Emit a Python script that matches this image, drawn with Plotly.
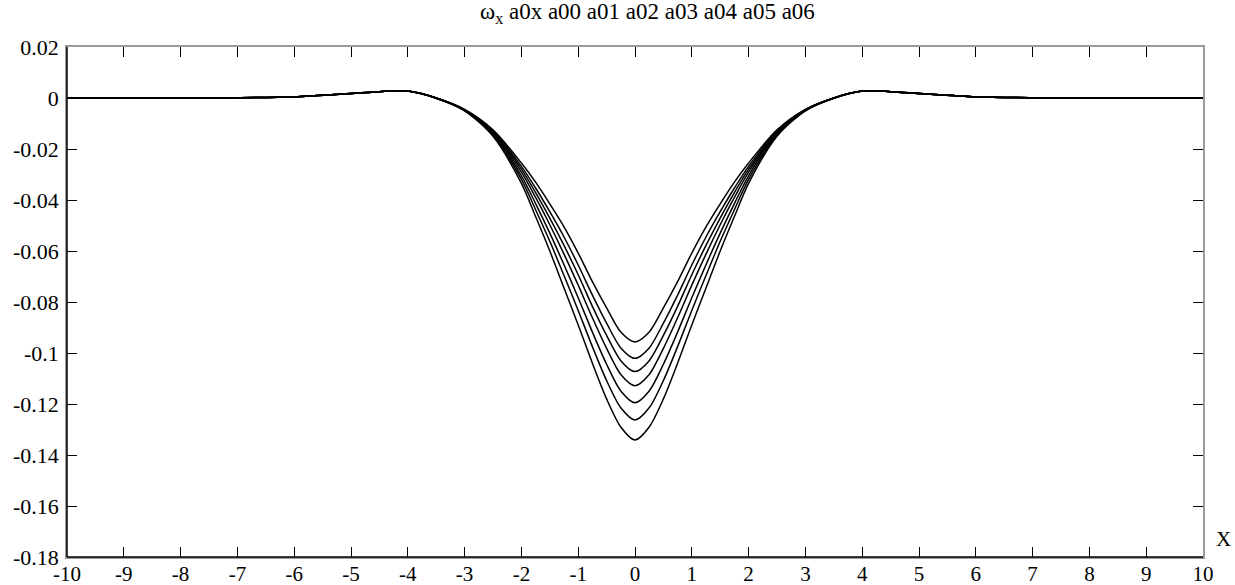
import plotly.graph_objects as go

# Sample positions along the X axis
X = [-10, -9, -8, -7, -6, -5, -4.5, -4, -3.5, -3, -2.5, -2, -1.75, -1.5, -1.25, -1, -0.75, -0.5, -0.25,
     0,
     0.25, 0.5, 0.75, 1, 1.25, 1.5, 1.75, 2, 2.5, 3, 3.5, 4, 4.5, 5, 6, 7, 8, 9, 10]

# Seven curves (shallowest to deepest)
a00 = [0, 0, 0, 0.0001, 0.0005, 0.0018, 0.0025, 0.0027, 0.0000, -0.0045, -0.0125, -0.0255, -0.0330, -0.0415, -0.0505, -0.0608, -0.0720, -0.0823, -0.0918,
       -0.0957,
       -0.0918, -0.0823, -0.0720, -0.0608, -0.0505, -0.0415, -0.0330, -0.0255, -0.0125, -0.0045, 0.0000, 0.0027, 0.0025, 0.0018, 0.0005, 0.0001, 0, 0, 0]
a01 = [0, 0, 0, 0.0001, 0.0005, 0.0018, 0.0025, 0.0027, 0.0000, -0.0046, -0.0129, -0.0268, -0.0353, -0.0446, -0.0545, -0.0655, -0.0773, -0.0883, -0.0980,
       -0.1021,
       -0.0980, -0.0883, -0.0773, -0.0655, -0.0545, -0.0446, -0.0353, -0.0268, -0.0129, -0.0046, 0.0000, 0.0027, 0.0025, 0.0018, 0.0005, 0.0001, 0, 0, 0]
a02 = [0, 0, 0, 0.0001, 0.0005, 0.0018, 0.0025, 0.0027, 0.0000, -0.0047, -0.0133, -0.0279, -0.0371, -0.0471, -0.0578, -0.0693, -0.0817, -0.0931, -0.1030,
       -0.1073,
       -0.1030, -0.0931, -0.0817, -0.0693, -0.0578, -0.0471, -0.0371, -0.0279, -0.0133, -0.0047, 0.0000, 0.0027, 0.0025, 0.0018, 0.0005, 0.0001, 0, 0, 0]
a03 = [0, 0, 0, 0.0001, 0.0005, 0.0018, 0.0025, 0.0027, 0.0000, -0.0047, -0.0136, -0.0291, -0.0390, -0.0497, -0.0612, -0.0734, -0.0862, -0.0982, -0.1084,
       -0.1128,
       -0.1084, -0.0982, -0.0862, -0.0734, -0.0612, -0.0497, -0.0390, -0.0291, -0.0136, -0.0047, 0.0000, 0.0027, 0.0025, 0.0018, 0.0005, 0.0001, 0, 0, 0]
a04 = [0, 0, 0, 0.0001, 0.0005, 0.0018, 0.0025, 0.0027, -0.0001, -0.0048, -0.0141, -0.0305, -0.0414, -0.0530, -0.0654, -0.0783, -0.0918, -0.1044, -0.1149,
       -0.1195,
       -0.1149, -0.1044, -0.0918, -0.0783, -0.0654, -0.0530, -0.0414, -0.0305, -0.0141, -0.0048, -0.0001, 0.0027, 0.0025, 0.0018, 0.0005, 0.0001, 0, 0, 0]
a05 = [0, 0, 0, 0.0001, 0.0005, 0.0018, 0.0025, 0.0027, -0.0001, -0.0049, -0.0145, -0.0319, -0.0438, -0.0562, -0.0696, -0.0833, -0.0975, -0.1108, -0.1215,
       -0.1263,
       -0.1215, -0.1108, -0.0975, -0.0833, -0.0696, -0.0562, -0.0438, -0.0319, -0.0145, -0.0049, -0.0001, 0.0027, 0.0025, 0.0018, 0.0005, 0.0001, 0, 0, 0]
a06 = [0, 0, 0, 0.0001, 0.0005, 0.0018, 0.0025, 0.0027, -0.0001, -0.0050, -0.0150, -0.0335, -0.0465, -0.0600, -0.0745, -0.0890, -0.1040, -0.1180, -0.1290,
       -0.1341,
       -0.1290, -0.1180, -0.1040, -0.0890, -0.0745, -0.0600, -0.0465, -0.0335, -0.0150, -0.0050, -0.0001, 0.0027, 0.0025, 0.0018, 0.0005, 0.0001, 0, 0, 0]

SERIES = {"a00": a00, "a01": a01, "a02": a02, "a03": a03, "a04": a04, "a05": a05, "a06": a06}

X_TICKS = list(range(-10, 11))
X_TICK_LABELS = [str(v) for v in X_TICKS]
Y_TICKS = [0.02, 0, -0.02, -0.04, -0.06, -0.08, -0.1, -0.12, -0.14, -0.16, -0.18]
Y_TICK_LABELS = ["0.02", "0", "-0.02", "-0.04", "-0.06", "-0.08", "-0.1", "-0.12", "-0.14", "-0.16", "-0.18"]

TITLE = "ω<sub>x</sub> a0x a00 a01 a02 a03 a04 a05 a06"
FONT = "Liberation Serif"

fig = go.Figure()
for name, ys in SERIES.items():
    fig.add_trace(go.Scatter(x=X, y=ys, mode="lines", name=name,
                             line=dict(color="black", width=1.5, shape="spline", smoothing=0.8),
                             showlegend=False, hoverinfo="skip"))

axis_common = dict(showgrid=False, zeroline=False, ticks="inside", ticklen=10, tickwidth=1.2,
                   tickcolor="black", linecolor="#9a9a9a", linewidth=1.5, mirror="ticks",
                   automargin=False)

fig.update_xaxes(range=[-10, 10], tickvals=X_TICKS, ticktext=X_TICK_LABELS,
                 ticklabelstandoff=-3, tickfont=dict(family=FONT, size=21, color="black"),
                 **axis_common)
fig.update_yaxes(range=[-0.18, 0.02], tickvals=Y_TICKS, ticktext=Y_TICK_LABELS,
                 ticklabelstandoff=2, tickfont=dict(family=FONT, size=22, color="black"),
                 **axis_common)

fig.update_layout(
    width=1235, height=585,
    margin=dict(l=67, r=32, t=47, b=28),
    paper_bgcolor="white", plot_bgcolor="white",
    font=dict(family=FONT, color="black"),
    shapes=[
        dict(type="line", xref="paper", yref="paper", x0=0, x1=0, y0=0, y1=1,
             line=dict(color="black", width=1.5)),
        dict(type="line", xref="paper", yref="paper", x0=0, x1=1, y0=0, y1=0,
             line=dict(color="black", width=1.5)),
    ],
    annotations=[
        dict(text=TITLE, xref="paper", yref="paper", x=0.511, y=1 + 34 / 510,
             xanchor="center", yanchor="middle", showarrow=False,
             font=dict(family=FONT, size=23, color="black")),
        dict(text="X", xref="paper", yref="paper", x=1 + 11 / 1136, y=4 / 510,
             xanchor="left", yanchor="bottom", showarrow=False,
             font=dict(family=FONT, size=21, color="black")),
    ],
)

fig.write_html("out.html", config={"displayModeBar": False},
               post_script="document.body.style.margin='0';")
